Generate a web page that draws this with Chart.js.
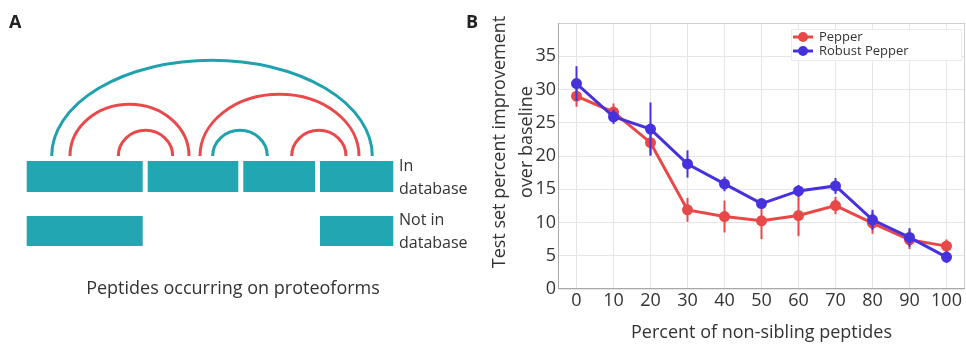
<!DOCTYPE html>
<html>
<head>
<meta charset="utf-8">
<title>Pepper vs Robust Pepper</title>
<script src="https://cdn.jsdelivr.net/npm/chart.js@4"></script>
<style>
  body { margin: 0; background: #fff; }
  #panelA { position: absolute; left: 0; top: 0; width: 480px; height: 345px; }
  #panelB { position: absolute; left: 480px; top: 0; width: 486px; height: 345px; }
</style>
</head>
<body>
<div id="panelA"><canvas id="diagramChart"></canvas></div>
<div id="panelB"><canvas id="improvementChart"></canvas></div>
<script>
// ---- panel B data ----
const nonSiblingPct = [0, 10, 20, 30, 40, 50, 60, 70, 80, 90, 100];
const pepperMean  = [29.0, 26.6, 22.0, 11.9, 10.9, 10.25, 11.05, 12.55, 9.9, 7.4, 6.45];
const pepperErr   = [1.6, 1.3, 1.9, 1.8, 2.4, 2.75, 3.1, 1.3, 1.6, 1.4, 1.0];
const robustMean  = [30.9, 25.9, 24.05, 18.8, 15.8, 12.85, 14.75, 15.5, 10.4, 7.75, 4.8];
const robustErr   = [2.6, 1.1, 4.0, 2.05, 1.1, 0.7, 0.9, 1.2, 1.5, 1.4, 0.9];
const yTicks = [0, 5, 10, 15, 20, 25, 30, 35];

// ---- panel A diagram (in diagram units) ----
const inDbSegments  = [[26.7, 142.7], [147.7, 238.3], [243.3, 315], [320, 393.3]];
const notDbSegments = [[26.7, 142.7], [320, 393.3]];
// [from, to, height, kind]
const siblingArcs = [
    [51.7, 372.3, 95.7, "teal"],
    [70, 189, 51.7, "red"],
    [118.3, 172.7, 25.7, "red"],
    [200, 359, 61.7, "red"],
    [212.7, 267.3, 25.7, "teal"],
    [291.7, 346, 25.7, "red"]
];

const RED = "#e94848";
const BLUE = "#4632dc";
const TEAL = "#21a6b2";
const FONT = "'Open Sans', 'Noto Sans', sans-serif";

// Panel A: diagram drawn through a hidden linear scale pair
const diagramPlugin = {
    id: "diagram",
    afterDraw(chart) {
        const ctx = chart.ctx;
        const sx = v => chart.scales.x.getPixelForValue(v);
        const sy = v => chart.scales.y.getPixelForValue(v);
        ctx.save();

        ctx.fillStyle = TEAL;
        inDbSegments.forEach(s => ctx.fillRect(sx(s[0]), sy(161), sx(s[1]) - sx(s[0]), sy(192) - sy(161)));
        notDbSegments.forEach(s => ctx.fillRect(sx(s[0]), sy(216), sx(s[1]) - sx(s[0]), sy(246) - sy(216)));

        ctx.lineWidth = 3;
        siblingArcs.forEach(a => {
            const cx = (sx(a[0]) + sx(a[1])) / 2;
            const rx = (sx(a[1]) - sx(a[0])) / 2;
            const ry = sy(156) - sy(156 - a[2]);
            ctx.strokeStyle = a[3] === "red" ? "#e84a4c" : "#1fa1ae";
            ctx.beginPath();
            ctx.ellipse(cx, sy(156), rx, ry, 0, Math.PI, 2 * Math.PI);
            ctx.stroke();
        });

        ctx.fillStyle = "#222";
        ctx.font = "bold 18px " + FONT;
        ctx.textBaseline = "middle";
        ctx.fillText("A", sx(9), sy(23));
        ctx.fillText("B", sx(466), sy(23));

        ctx.fillStyle = "#333";
        ctx.font = "16px " + FONT;
        ctx.textAlign = "left";
        ctx.fillText("In", sx(399), sy(166));
        ctx.fillText("database", sx(399), sy(189));
        ctx.fillText("Not in", sx(399), sy(220));
        ctx.fillText("database", sx(399), sy(243));

        ctx.font = "18px " + FONT;
        ctx.textAlign = "center";
        ctx.fillText("Peptides occurring on proteoforms", sx(233), sy(289));
        ctx.restore();
    }
};

new Chart(document.getElementById("diagramChart"), {
    type: "scatter",
    data: { datasets: [] },
    options: {
        responsive: true,
        maintainAspectRatio: false,
        animation: false,
        layout: { padding: 0, autoPadding: false },
        plugins: { legend: { display: false }, tooltip: { enabled: false } },
        scales: {
            x: { type: "linear", min: 0, max: 480, display: false },
            y: { type: "linear", min: 0, max: 345, reverse: true, display: false }
        }
    },
    plugins: [diagramPlugin]
});

// Panel B: error bars, frame, y title and boxed legend
const errorBarPlugin = {
    id: "errorBars",
    beforeDatasetDraw(chart, args) {
        const ds = chart.data.datasets[args.index];
        if (!ds.errors) return;
        const ctx = chart.ctx;
        const x = chart.scales.x, y = chart.scales.y;
        ctx.save();
        ctx.strokeStyle = ds.borderColor;
        ctx.lineWidth = 2;
        ds.data.forEach((p, i) => {
            const px = x.getPixelForValue(p.x);
            ctx.beginPath();
            ctx.moveTo(px, y.getPixelForValue(p.y - ds.errors[i]));
            ctx.lineTo(px, y.getPixelForValue(p.y + ds.errors[i]));
            ctx.stroke();
        });
        ctx.restore();
    }
};

const framePlugin = {
    id: "frame",
    beforeDatasetsDraw(chart) {
        const { ctx, chartArea: a } = chart;
        ctx.save();
        ctx.lineWidth = 1;
        ctx.strokeStyle = "#cfcfcf";
        ctx.strokeRect(a.left + 0.5, a.top + 0.5, a.right - a.left - 1, a.bottom - a.top - 1);
        ctx.strokeStyle = "#a9a9a9";
        ctx.beginPath();
        ctx.moveTo(a.left + 0.5, a.top);
        ctx.lineTo(a.left + 0.5, a.bottom - 0.5);
        ctx.lineTo(a.right, a.bottom - 0.5);
        ctx.stroke();
        ctx.restore();
    },
    afterDraw(chart) {
        const { ctx, chartArea: a } = chart;
        ctx.save();
        // y axis title, two lines
        ctx.fillStyle = "#333";
        ctx.font = "18px " + FONT;
        ctx.textAlign = "center";
        ctx.textBaseline = "middle";
        ctx.translate(20, 142);
        ctx.rotate(-Math.PI / 2);
        ctx.fillText("Test set percent improvement", 0, 0);
        ctx.fillText("over baseline", 0, 27);
        ctx.restore();

        // legend box
        ctx.save();
        const bx = a.right - 174, by = a.top + 6, bw = 170, bh = 31;
        ctx.fillStyle = "#fff";
        ctx.fillRect(bx, by, bw, bh);
        ctx.strokeStyle = "#ececec";
        ctx.strokeRect(bx + 0.5, by + 0.5, bw, bh);
        ctx.font = "13px " + FONT;
        ctx.textBaseline = "middle";
        chart.data.datasets.forEach((ds, i) => {
            const ly = by + 8 + i * 14;
            ctx.strokeStyle = ds.borderColor;
            ctx.lineWidth = 3;
            ctx.beginPath();
            ctx.moveTo(bx + 2, ly);
            ctx.lineTo(bx + 22, ly);
            ctx.stroke();
            ctx.fillStyle = ds.borderColor;
            ctx.beginPath();
            ctx.arc(bx + 12, ly, 5, 0, 2 * Math.PI);
            ctx.fill();
            ctx.fillStyle = "#333";
            ctx.fillText(ds.label, bx + 28, ly);
        });
        ctx.restore();
    }
};

const toPoints = vals => nonSiblingPct.map((x, i) => ({ x, y: vals[i] }));

new Chart(document.getElementById("improvementChart"), {
    type: "line",
    data: {
        datasets: [
            {
                label: "Pepper",
                data: toPoints(pepperMean),
                errors: pepperErr,
                borderColor: RED,
                backgroundColor: RED,
                borderWidth: 3,
                pointRadius: 5.5,
                pointBorderWidth: 0,
                order: 1
            },
            {
                label: "Robust Pepper",
                data: toPoints(robustMean),
                errors: robustErr,
                borderColor: BLUE,
                backgroundColor: BLUE,
                borderWidth: 3,
                pointRadius: 5.5,
                pointBorderWidth: 0,
                order: 0
            }
        ]
    },
    options: {
        responsive: true,
        maintainAspectRatio: false,
        animation: false,
        // autoPadding off so point overflow doesn't shrink the plot on the right
        layout: { autoPadding: false, padding: { top: 23, right: 1, left: 0, bottom: 0 } },
        plugins: { legend: { display: false }, tooltip: { enabled: false } },
        scales: {
            x: {
                type: "linear",
                min: -5,
                max: 105,
                afterBuildTicks: s => { s.ticks = nonSiblingPct.map(v => ({ value: v })); },
                afterFit: s => { s.height = 56; s.paddingLeft = 0; s.paddingRight = 0; },
                border: { display: false },
                grid: { color: "#e6e6e6", drawTicks: false },
                ticks: { color: "#333", padding: 1, maxRotation: 0, autoSkip: false, font: { family: FONT, size: 18 } },
                title: {
                    display: true,
                    text: "Percent of non-sibling peptides",
                    color: "#333",
                    padding: { top: 0, bottom: 1 },
                    font: { family: FONT, size: 18 }
                }
            },
            y: {
                min: 0,
                max: 40,
                afterBuildTicks: s => { s.ticks = yTicks.map(v => ({ value: v })); },
                afterFit: s => { s.width = 78; s.paddingTop = 0; s.paddingBottom = 0; },
                border: { display: false },
                grid: { color: "#e6e6e6", drawTicks: false },
                ticks: { color: "#333", padding: 2, font: { family: FONT, size: 18 } }
            }
        }
    },
    plugins: [errorBarPlugin, framePlugin]
});
</script>
</body>
</html>
